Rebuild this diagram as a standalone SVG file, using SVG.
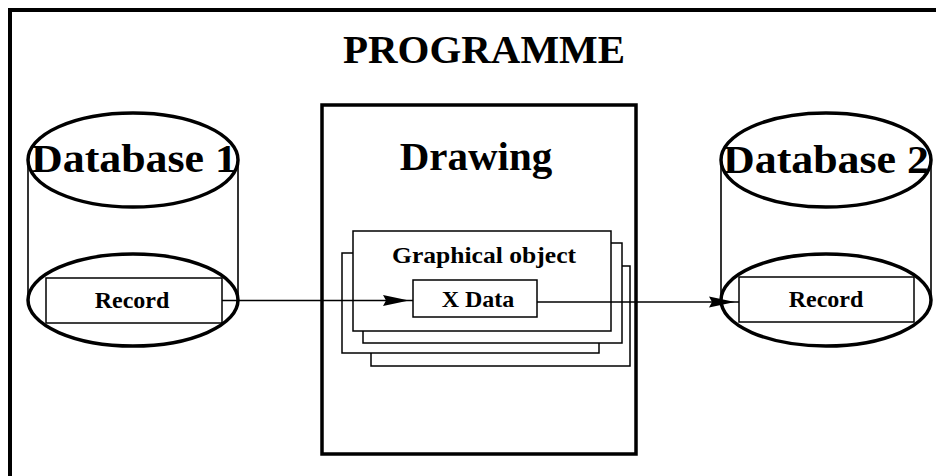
<svg xmlns="http://www.w3.org/2000/svg" width="936" height="476" viewBox="0 0 936 476">
<style>
.thick{fill:none;stroke:#000;stroke-width:3.5}
.thin{fill:#fff;stroke:#000;stroke-width:1.5}
.side{fill:none;stroke:#000;stroke-width:1.6}
.conn{fill:none;stroke:#000;stroke-width:1.5}
text{font-family:"Liberation Serif","Times New Roman",serif;font-weight:bold;fill:#000;text-anchor:middle}
.big{font-size:41px}
.small{font-size:24px}
</style>
<defs>
<marker id="arr" markerWidth="28" markerHeight="12" refX="26" refY="6" orient="auto" markerUnits="userSpaceOnUse">
<path d="M0,0.5 L26,6 L0,11.5 L3,6 Z" fill="#000"/>
</marker>
</defs>
<rect width="936" height="476" fill="#fff"/>
<g id="programme">
<path d="M10,476 V10 H936" fill="none" stroke="#000" stroke-width="4"/>
<text class="big" x="484" y="63" textLength="282" lengthAdjust="spacingAndGlyphs">PROGRAMME</text>
</g>
<g id="database1">
<line class="side" x1="28" y1="160" x2="28" y2="300"/>
<line class="side" x1="238" y1="160" x2="238" y2="300"/>
<ellipse class="thick" cx="133" cy="160" rx="105" ry="47"/>
<text class="big" x="134" y="172" textLength="206" lengthAdjust="spacingAndGlyphs">Database 1</text>
</g>
<g id="record1">
<rect class="thin" x="46" y="278" width="176" height="45"/>
<text class="small" x="132" y="308">Record</text>
<ellipse class="thick" cx="133" cy="300" rx="105" ry="46"/>
</g>
<g id="drawing">
<rect x="322" y="105" width="314" height="349" fill="#fff" stroke="#000" stroke-width="3.5"/>
<text class="big" x="476" y="170">Drawing</text>
</g>
<g id="graphical-object">
<rect class="thin" x="371" y="266" width="259" height="100"/>
<rect class="thin" x="342" y="253" width="257" height="100"/>
<rect class="thin" x="363" y="243" width="259" height="100"/>
<rect class="thin" x="353" y="231" width="258" height="100"/>
<text class="small" x="484" y="263" textLength="184" lengthAdjust="spacingAndGlyphs">Graphical object</text>
</g>
<g id="xdata">
<rect class="thin" x="413" y="280" width="124" height="37"/>
<text class="small" x="478" y="307">X Data</text>
</g>
<g id="database2">
<line class="side" x1="721" y1="160" x2="721" y2="300"/>
<line class="side" x1="931" y1="160" x2="931" y2="300"/>
<ellipse class="thick" cx="826" cy="160" rx="105" ry="47"/>
<text class="big" x="826" y="173" textLength="206" lengthAdjust="spacingAndGlyphs">Database 2</text>
</g>
<g id="record2">
<rect class="thin" x="739" y="277" width="175" height="45"/>
<text class="small" x="826" y="307">Record</text>
<ellipse class="thick" cx="826" cy="300" rx="105" ry="46"/>
</g>
<g id="connectors">
<path class="conn" d="M222,300.5 H409" marker-end="url(#arr)"/>
<line class="conn" x1="409" y1="300.5" x2="413" y2="300.5"/>
<path class="conn" d="M537,302 H735" marker-end="url(#arr)"/>
<line class="conn" x1="735" y1="302" x2="739" y2="302"/>
</g>
</svg>
